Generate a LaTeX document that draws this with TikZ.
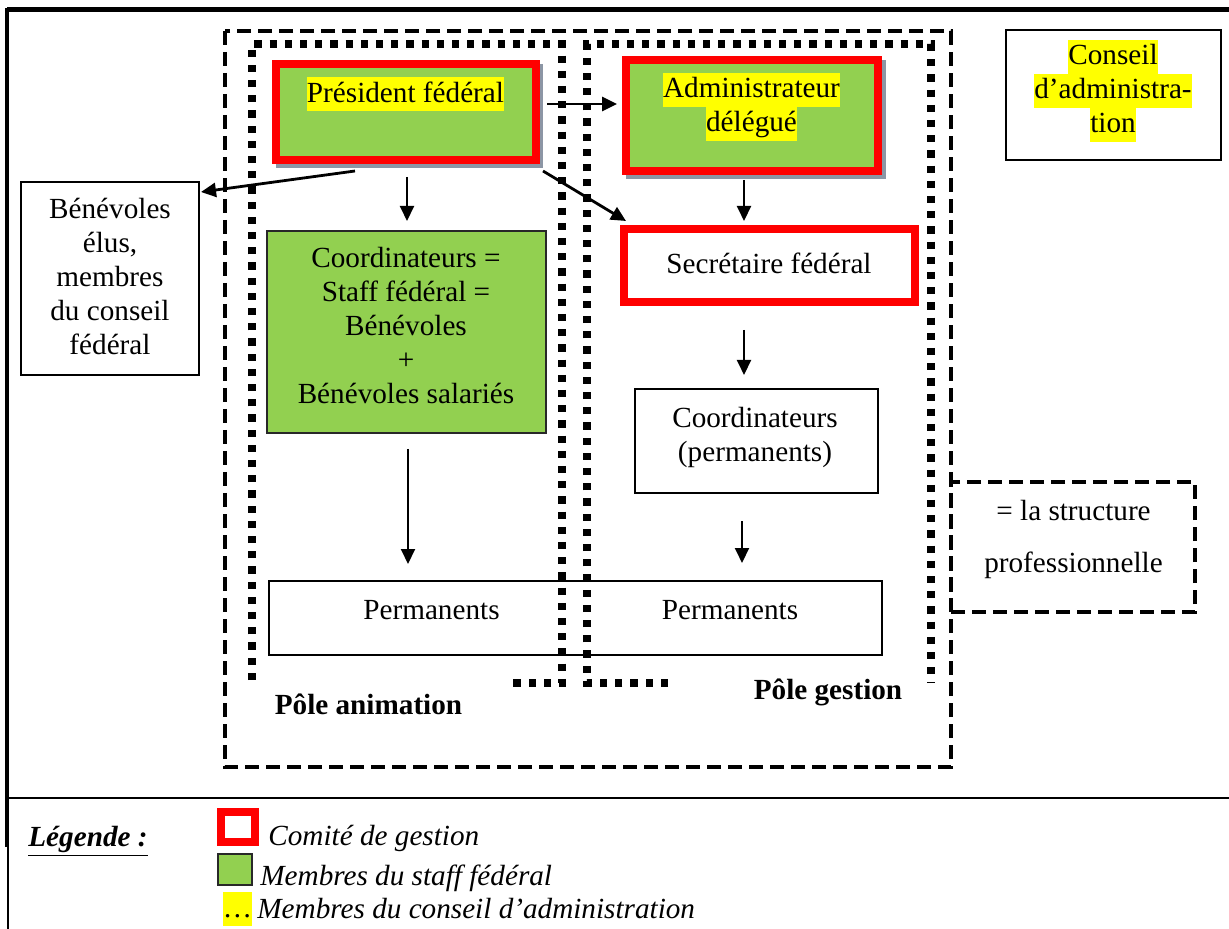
\documentclass[tikz,border=0pt]{standalone}
\usepackage{fontspec}
\setmainfont{Liberation Serif}
\usetikzlibrary{arrows.meta,calc}
\definecolor{wgreen}{RGB}{146,208,80}
\definecolor{shadowgray}{RGB}{140,150,165}
\definecolor{hlyellow}{RGB}{255,255,0}
\newcommand\hly[1]{{\setlength\fboxsep{0pt}\colorbox{hlyellow}{\rule[-4.5pt]{0pt}{17pt}#1}}}
\begin{document}
\begin{tikzpicture}[x=0.5pt,y=-0.5pt,
  every node/.style={font=\fontsize{14.6pt}{17pt}\selectfont, inner sep=0pt, align=center},
  redbox/.style={draw=red, line width=4pt},
  greenbox/.style={fill=wgreen},
  plainbox/.style={draw=black, line width=1pt, fill=white},
  darkbox/.style={draw={rgb,255:red,40;green,40;blue,40}, line width=1pt},
  shadowbox/.style={fill=shadowgray},
  bigdash/.style={line width=2.2pt, dash pattern=on 7pt off 3.5pt},
  dotline/.style={line width=3.6pt, dash pattern=on 3.6pt off 4pt},
  arr/.style={-{Triangle[length=7.5pt,width=7pt]}, line width=1pt},
  arrthick/.style={arr, line width=1.4pt},
  frameline/.style={line width=2.2pt},
  italictext/.style={font=\fontsize{14.6pt}{17pt}\selectfont\itshape},
  boldtext/.style={font=\fontsize{14.6pt}{17pt}\selectfont\bfseries}
]
\useasboundingbox (0,0) rectangle (1229,929);

% outer frame
\draw[frameline, line width=2.5pt] (7,10) -- (1229,10);
\draw[frameline, line width=2pt] (7,8) -- (7,847);
\draw[line width=0.8pt] (8,798) -- (8,929);
\draw[line width=1pt] (7,798) -- (1229,798);

% shadows
\fill[shadowbox] (276,64) rectangle (543,168);
\fill[shadowbox] (626,60) rectangle (886,179);

% boxes
\node[redbox, greenbox, minimum width=130pt, minimum height=48pt] (pres) at (406,112) {};
\node[redbox, greenbox, minimum width=126pt, minimum height=55.5pt] (admin) at (752,115.5) {};
\node[redbox, fill=white, minimum width=145.5pt, minimum height=36.5pt] (secr) at (769.5,265.5) {};
\node[darkbox, greenbox, minimum width=139.5pt, minimum height=101pt] (staff) at (406.5,332) {};
\node[plainbox, minimum width=121.5pt, minimum height=52pt] (cperm) at (756.5,441) {};
\node[plainbox, minimum width=306.5pt, minimum height=37pt] (perm) at (575.5,618) {};
\node[plainbox, minimum width=89pt, minimum height=96.5pt] (ben) at (110,278.5) {};
\node[plainbox, minimum width=107.5pt, minimum height=65pt] (conseil) at (1113.5,95) {};
\node[draw, bigdash, minimum width=122pt, minimum height=65pt] (struct) at (1073,547) {};

% texts
\node (tpres) at (405.5,94.5) {\hly{Président fédéral}};
\node (tadmin) at (751.5,107) {\hly{Administrateur}\\\hly{délégué}};
\node (tsecr) at (769,263) {Secrétaire fédéral};
\node (tstaff) at (406,325.5) {Coordinateurs =\\Staff fédéral =\\Bénévoles\\+\\Bénévoles salariés};
\node (tcperm) at (755,437) {Coordinateurs\\(permanents)};
\node (tperm1) at (431.5,610.5) {Permanents};
\node (tperm2) at (730,610.5) {Permanents};
\node (tben) at (110,276.5) {Bénévoles\\élus,\\membres\\du conseil\\fédéral};
\node (tconseil) at (1113,91) {\hly{Conseil}\\\hly{d’administra-}\\\hly{tion}};
\node (tstruct) at (1073.5,539) {=~la structure\\[9pt]professionnelle};
\node[boldtext] (tanim) at (368.5,704) {Pôle animation};
\node[boldtext] (tgest) at (828,692.5) {Pôle gestion};

% dashed / dotted groupings
\draw[bigdash] (225,31) rectangle (951,767);
\draw[dotline] (252,680) -- (252,44) -- (562,44) -- (562,683) -- (510,683);
\draw[dotline] (668,683) -- (587,683) -- (587,44) -- (931,44) -- (931,683);

% arrows
\draw[arrthick] ($(pres.east)+(7,-8)$) -- ($(admin.west)+(-5,-11.5)$);
\draw[arrthick] ($(pres.south)+(-51,7)$) -- ($(ben.east)+(1,-86.5)$);
\draw[arr] ($(pres.south)+(1,13)$) -- ($(staff.north)+(0.5,-9)$);
\draw[arrthick] ($(pres.south east)+(3,7)$) -- ($(secr.north west)+(6,-4)$);
\draw[arr] ($(admin.south)+(-8,5)$) -- ($(secr.north)+(-25.5,-4)$);
\draw[arr] ($(secr.south)+(-25.5,24)$) -- ($(cperm.north)+(-12.5,-13)$);
\draw[arr] ($(staff.south)+(1.5,15)$) -- ($(perm.north)+(-167.5,-16)$);
\draw[arr] ($(cperm.south)+(-14.5,27)$) -- ($(perm.north)+(166.5,-17)$);

% legend
\node[boldtext, anchor=base west] (leg) at (28,846) {\underline{\textit{Légende :}}};
\node[redbox, fill=white, minimum width=17pt, minimum height=15pt] (lgred) at (238,827) {};
\node[darkbox, greenbox, minimum width=17pt, minimum height=15.5pt] (lggreen) at (235,869.5) {};
\node (lgyel) at (237.5,909) {\hly{…}};
\node[italictext, anchor=base west] (lt1) at (268,845) {Comité de gestion};
\node[italictext, anchor=base west] (lt2) at (260,885) {Membres du staff fédéral};
\node[italictext, anchor=base west] (lt3) at (257,918) {Membres du conseil d’administration};
\end{tikzpicture}
\end{document}
